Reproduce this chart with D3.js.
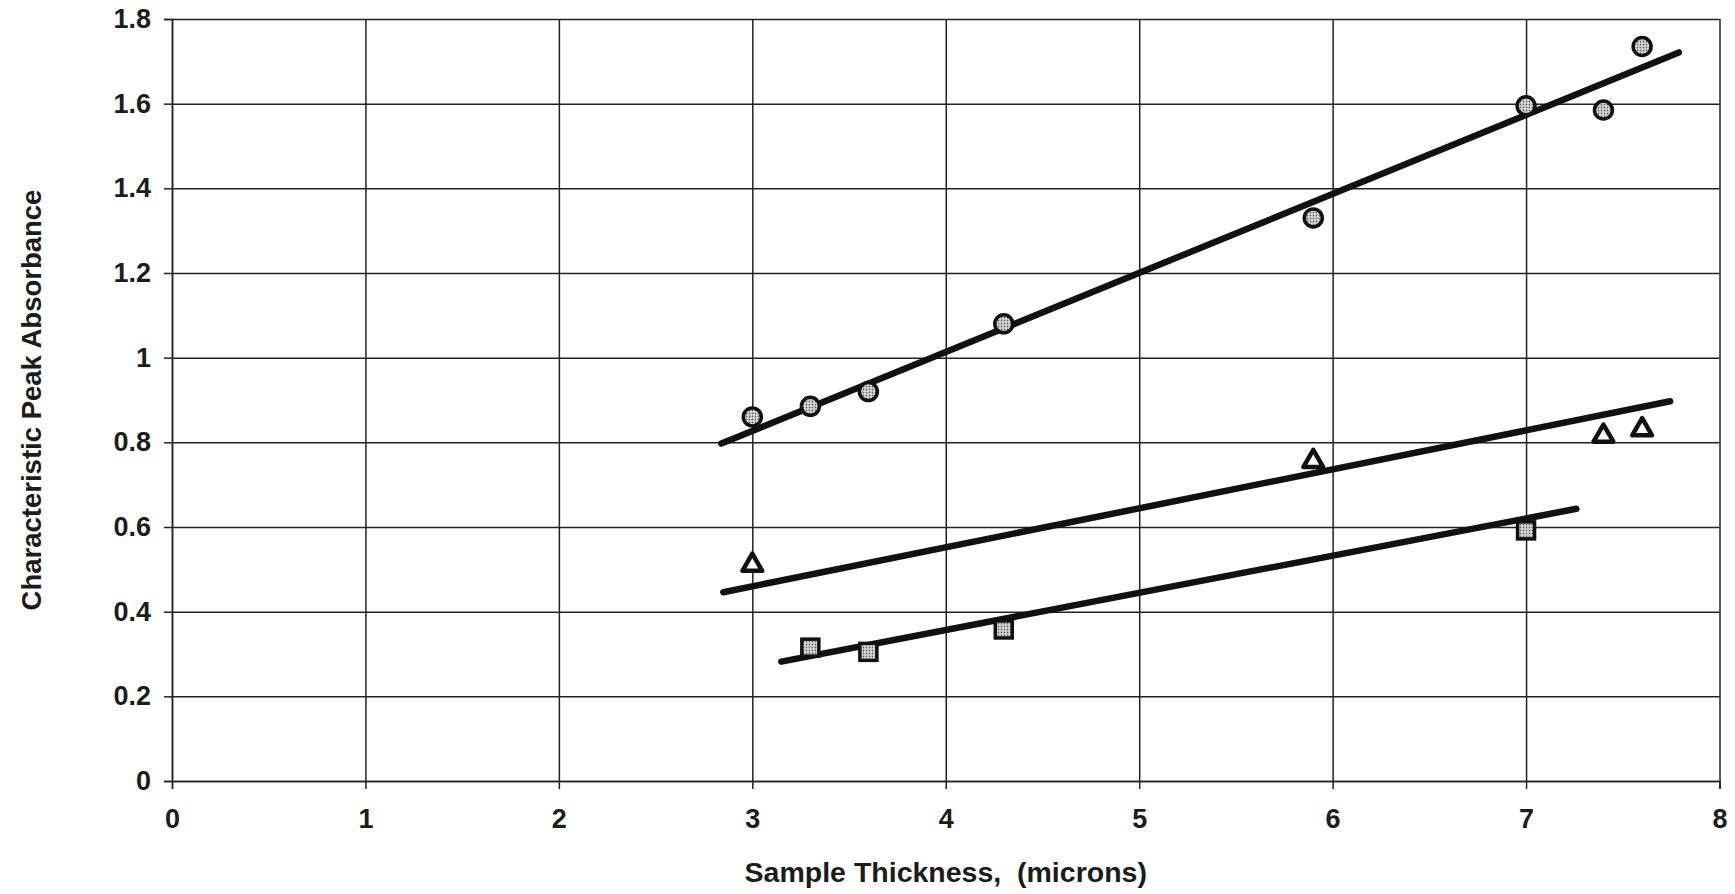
<!DOCTYPE html>
<html>
<head>
<meta charset="utf-8">
<script src="https://cdnjs.cloudflare.com/ajax/libs/d3/7.8.5/d3.min.js"></script>
<style>
  html, body { margin: 0; padding: 0; background: #fff; overflow: hidden; }
  svg { display: block; }
  text { font-family: "Liberation Sans", Arial, sans-serif; font-weight: bold; fill: #1c1c1c; }
</style>
</head>
<body>
<svg></svg>
<script>
// measured points (sample thickness in microns, peak absorbance)
const circleX = [3.0, 3.3, 3.6, 4.3, 5.9, 7.0, 7.4, 7.6];
const circleY = [0.86, 0.885, 0.92, 1.08, 1.33, 1.595, 1.585, 1.735];
const triangleX = [3.0, 5.9, 7.4, 7.6];
const triangleY = [0.51, 0.755, 0.815, 0.83];
const squareX = [3.3, 3.6, 4.3, 7.0];
const squareY = [0.315, 0.305, 0.358, 0.592];

// fitted lines, end points
const circleFitX = [2.84, 7.79];
const circleFitY = [0.797, 1.721];
const triangleFitX = [2.85, 7.745];
const triangleFitY = [0.446, 0.897];
const squareFitX = [3.15, 7.26];
const squareFitY = [0.282, 0.643];

const xTicks = [0, 1, 2, 3, 4, 5, 6, 7, 8];
const yTicks = [0, 0.2, 0.4, 0.6, 0.8, 1, 1.2, 1.4, 1.6, 1.8];

const width = 1735;
const height = 894;
const margin = { top: 19, right: 15.5, bottom: 113, left: 172 };
const innerWidth = width - margin.left - margin.right;
const innerHeight = height - margin.top - margin.bottom;

const xScale = d3.scaleLinear().domain([0, 8]).range([0, innerWidth]);
const yScale = d3.scaleLinear().domain([0, 1.8]).range([innerHeight, 0]);

const svg = d3.select("svg")
    .attr("width", width)
    .attr("height", height);

// stipple fill used inside the markers
const defs = svg.append("defs");
const pat = defs.append("pattern")
    .attr("id", "stipple")
    .attr("patternUnits", "userSpaceOnUse")
    .attr("width", 3)
    .attr("height", 3);
pat.append("rect").attr("width", 3).attr("height", 3).attr("fill", "#dcdcdc");
pat.append("circle").attr("cx", 1.5).attr("cy", 1.5).attr("r", 0.9).attr("fill", "#666");

const g = svg.append("g")
    .attr("transform", `translate(${margin.left}, ${margin.top})`);

// grid
g.append("g")
    .attr("class", "grid")
    .call(d3.axisLeft(yScale).tickValues(yTicks).tickSize(-innerWidth).tickFormat(""))
    .call(s => s.select(".domain").remove());
g.append("g")
    .attr("class", "grid")
    .call(d3.axisBottom(xScale).tickValues(xTicks).tickSize(innerHeight).tickFormat(""))
    .call(s => s.select(".domain").remove());
g.selectAll(".grid line")
    .attr("stroke", "#222")
    .attr("stroke-width", 1.5);
g.selectAll(".grid text").remove();

// axes with outside ticks
const yAxis = g.append("g")
    .call(d3.axisLeft(yScale).tickValues(yTicks).tickSize(8).tickPadding(13)
        .tickFormat(d => d3.format("")(d)));
const xAxis = g.append("g")
    .attr("transform", `translate(0, ${innerHeight})`)
    .call(d3.axisBottom(xScale).tickValues(xTicks).tickSize(8).tickPadding(20));

[yAxis, xAxis].forEach(a => {
    a.select(".domain").attr("stroke", "#222").attr("stroke-width", 1.5);
    a.selectAll(".tick line").attr("stroke", "#222").attr("stroke-width", 1.5);
    a.selectAll("text")
        .attr("font-family", "'Liberation Sans', Arial, sans-serif")
        .attr("font-weight", "bold")
        .attr("font-size", "27px")
        .attr("fill", "#1c1c1c");
});

// axis titles
svg.append("text")
    .attr("x", margin.left + innerWidth / 2)
    .attr("y", 882)
    .attr("text-anchor", "middle")
    .attr("font-size", "28.5px")
    .style("white-space", "pre")
    .text("Sample Thickness,  (microns)");

svg.append("text")
    .attr("transform", `translate(41, ${margin.top + innerHeight / 2}) rotate(-90)`)
    .attr("text-anchor", "middle")
    .attr("font-size", "27.5px")
    .text("Characteristic Peak Absorbance");

// fit lines
const line = d3.line()
    .x(d => xScale(d[0]))
    .y(d => yScale(d[1]));

const fits = [
    [circleFitX, circleFitY],
    [triangleFitX, triangleFitY],
    [squareFitX, squareFitY]
];
g.selectAll("path.fit")
    .data(fits)
    .enter()
    .append("path")
    .attr("class", "fit")
    .attr("fill", "none")
    .attr("stroke", "#111")
    .attr("stroke-width", 6.5)
    .attr("stroke-linecap", "round")
    .attr("d", d => line(d[0].map((x, i) => [x, d[1][i]])));

// markers
const circles = circleX.map((x, i) => ({ x: x, y: circleY[i] }));
const triangles = triangleX.map((x, i) => ({ x: x, y: triangleY[i] }));
const squares = squareX.map((x, i) => ({ x: x, y: squareY[i] }));

g.selectAll("circle.pt")
    .data(circles)
    .enter()
    .append("circle")
    .attr("class", "pt")
    .attr("cx", d => xScale(d.x))
    .attr("cy", d => yScale(d.y))
    .attr("r", 9)
    .attr("fill", "url(#stipple)")
    .attr("stroke", "#111")
    .attr("stroke-width", 3.5);

g.selectAll("rect.pt")
    .data(squares)
    .enter()
    .append("rect")
    .attr("class", "pt")
    .attr("x", d => xScale(d.x) - 8.5)
    .attr("y", d => yScale(d.y) - 8.5)
    .attr("width", 17)
    .attr("height", 17)
    .attr("fill", "url(#stipple)")
    .attr("stroke", "#111")
    .attr("stroke-width", 3.5);

const tri = d3.symbol().type(d3.symbolTriangle).size(170);
g.selectAll("path.tri")
    .data(triangles)
    .enter()
    .append("path")
    .attr("class", "tri")
    .attr("transform", d => `translate(${xScale(d.x)}, ${yScale(d.y)})`)
    .attr("d", tri)
    .attr("fill", "#fff")
    .attr("stroke", "#111")
    .attr("stroke-width", 4.5)
    .attr("stroke-linejoin", "round");
</script>
</body>
</html>
